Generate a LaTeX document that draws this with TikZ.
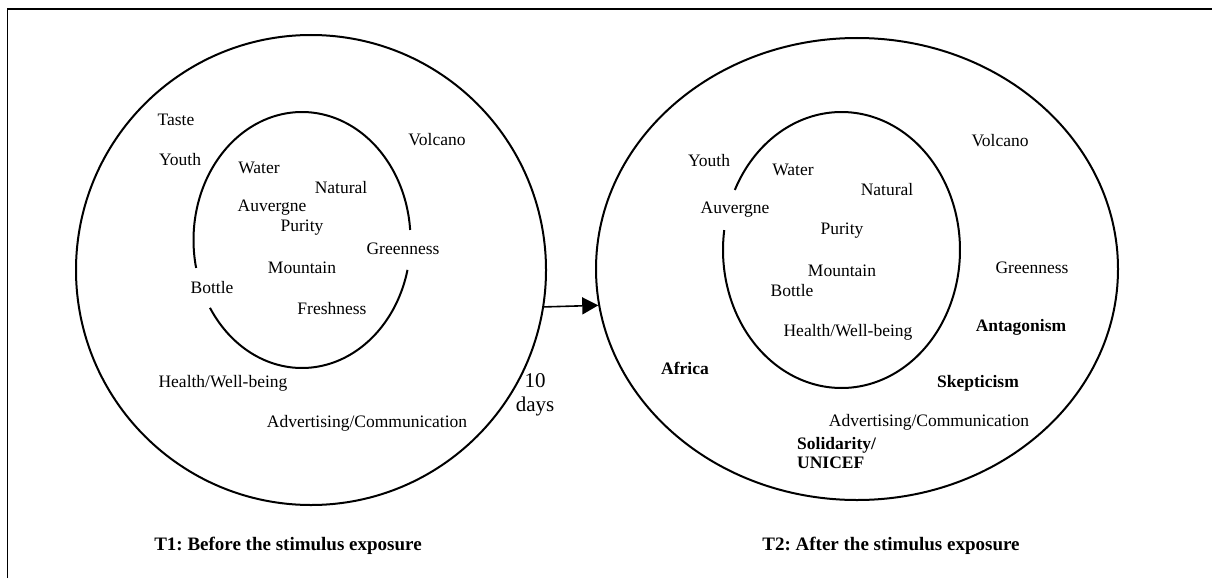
\documentclass[tikz,border=0pt]{standalone}
\usepackage{fontspec}
\setmainfont{Liberation Serif}
\usetikzlibrary{arrows.meta,shapes.geometric}
\tikzset{
  lbl/.style={inner sep=0pt, font=\fontsize{17.5}{21}\selectfont},
  blbl/.style={inner sep=0pt, font=\fontsize{17.5}{21}\selectfont\bfseries},
  ttl/.style={inner sep=0pt, font=\fontsize{19}{23}\selectfont\bfseries},
  ring/.style={draw, line width=2pt, inner sep=0pt},
  inner/.style={line width=2pt},
  frameline/.style={line width=1.5pt}
}
\frenchspacing
\begin{document}
\begin{tikzpicture}[x=1pt,y=-1pt]
\useasboundingbox (0,0) rectangle (1212,578);
% frame
\draw[frameline] (7.5,578) -- (7.5,9) -- (1212,9);
% outer rings
\node[ring, circle, minimum size=470pt] (c1) at (311,270) {};
\node[ring, ellipse, minimum width=522pt, minimum height=462pt] (c2) at (857,269) {};
% inner open ellipses
\draw[inner] plot[domain=4.5:192.6, samples=120] ({302+108.5*cos(\x)},{240-128*sin(\x)});
\draw[inner] plot[domain=212:346.5, samples=100] ({302+108.5*cos(\x)},{240-128*sin(\x)});
\draw[inner] plot[domain=171.7:514.2, samples=200] ({841.5+118.5*cos(\x)},{250-138*sin(\x)});
% arrow
\draw[line width=1.6pt, -{Triangle[length=16pt,width=17pt]}] (c1.-9) -- (c2.188);
% left labels
\node[lbl] (taste1) at (176,120) {Taste};
\node[lbl] (youth1) at (180,160) {Youth};
\node[lbl] (water1) at (259,168) {Water};
\node[lbl] (natural1) at (341,188) {Natural};
\node[lbl] (auv1) at (272,208) {Auvergne};
\node[lbl] (purity1) at (302,228) {Purity};
\node[lbl] (green1) at (403,249) {Greenness};
\node[lbl] (mount1) at (302,268) {Mountain};
\node[lbl] (bottle1) at (212,288) {Bottle};
\node[lbl] (fresh1) at (332,309) {Freshness};
\node[lbl] (volc1) at (437,140) {Volcano};
\node[lbl] (health1) at (223,383) {Health/Well-being};
\node[lbl] (adv1) at (367,423) {Advertising/Communication};
\node[inner sep=0pt, align=center, font=\fontsize{21}{24}\selectfont] (days) at (535,395) {10\\days};
% right labels
\node[lbl] (youth2) at (709,161) {Youth};
\node[lbl] (water2) at (793,170) {Water};
\node[lbl] (natural2) at (887,190) {Natural};
\node[lbl] (volc2) at (1000,141) {Volcano};
\node[lbl] (auv2) at (735,210) {Auvergne};
\node[lbl] (purity2) at (842,231) {Purity};
\node[lbl] (mount2) at (842,271) {Mountain};
\node[lbl] (bottle2) at (792,291) {Bottle};
\node[lbl] (green2) at (1032,268) {Greenness};
\node[lbl] (health2) at (848,332) {Health/Well-being};
\node[blbl] (antag) at (1021,327) {Antagonism};
\node[blbl] (africa) at (685,368) {Africa};
\node[blbl] (skep) at (978,383) {Skepticism};
\node[lbl] (adv2) at (929,422) {Advertising/Communication};
\node[blbl, align=left, anchor=west, font=\fontsize{17.5}{19.5}\selectfont\bfseries] (solid) at (797,453) {Solidarity/\\UNICEF};
% titles
\node[ttl] (t1) at (288,546) {T1: Before the stimulus exposure};
\node[ttl] (t2) at (891,546) {T2: After the stimulus exposure};
\end{tikzpicture}
\end{document}
